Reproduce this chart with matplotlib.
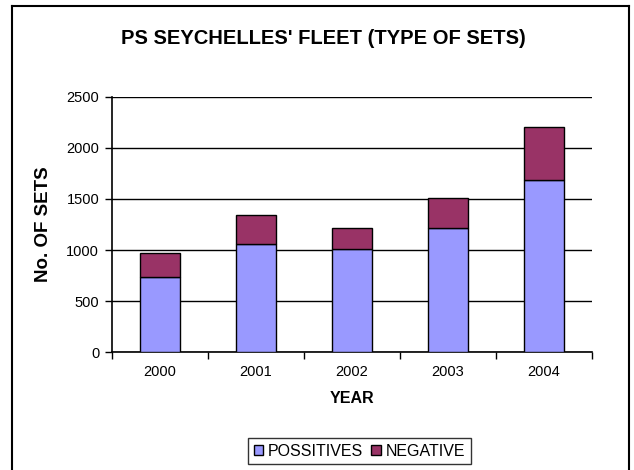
import matplotlib
matplotlib.use("Agg")
import matplotlib.pyplot as plt
from matplotlib.lines import Line2D
import numpy as np

plt.rcParams['font.family'] = ['Liberation Sans', 'DejaVu Sans']

years = ['2000', '2001', '2002', '2003', '2004']
positives = [733, 1060, 1010, 1216, 1685]
negative = [242, 283, 209, 296, 518]
y_ticks = [0, 500, 1000, 1500, 2000, 2500]

W, H = 634, 470
fig = plt.figure(figsize=(W / 100, H / 100), dpi=100)
ax = fig.add_axes([111.7 / W, 1 - 352.3 / H, (592 - 111.7) / W, (352.3 - 96.7) / H])

x = np.arange(len(years))
bw = 0.42
ax.bar(x, positives, bw, color='#9999FF', edgecolor='black', linewidth=1.0,
       label='POSSITIVES', zorder=3)
ax.bar(x, negative, bw, bottom=positives, color='#993366', edgecolor='black',
       linewidth=1.0, label='NEGATIVE', zorder=3)

ax.set_xlim(-0.5, len(years) - 0.5)
ax.set_ylim(0, 2500)
ax.set_yticks(y_ticks)
ax.set_yticklabels([str(v) for v in y_ticks], fontsize=10.5)
ax.set_xticks(x)
ax.set_xticklabels(years, fontsize=10.5)
ax.set_xticks(np.arange(-0.5, len(years) + 0.5, 1), minor=True)
ax.tick_params(axis='x', which='major', length=0, pad=9)
ax.tick_params(axis='x', which='minor', length=5, width=1, direction='out')
ax.tick_params(axis='y', length=5, width=1, direction='out', pad=4)

ax.yaxis.grid(True, color='black', linewidth=1.0, zorder=0)
for s in ['top', 'right']:
    ax.spines[s].set_visible(False)
ax.spines['left'].set_linewidth(1.2)
ax.spines['bottom'].set_linewidth(1.2)

ax.set_xlabel('YEAR', fontsize=11.5, fontweight='bold', labelpad=9)
ax.set_ylabel('No. OF SETS', fontsize=13.5, fontweight='bold', labelpad=10)

fig.text(323 / W, 1 - 38 / H, "PS SEYCHELLES' FLEET (TYPE OF SETS)",
         ha='center', va='center', fontsize=14.5, fontweight='bold')

leg = fig.legend(loc='center', bbox_to_anchor=(359.5 / W, 1 - 451 / H), ncol=2,
                 fontsize=11.5, frameon=True, fancybox=False, edgecolor='black',
                 handlelength=0.6, handleheight=0.6, handletextpad=0.3,
                 columnspacing=0.5, borderpad=0.35)
leg.get_frame().set_linewidth(1.0)

# chart area frame
fig.add_artist(Line2D([12 / W, 12 / W], [0, 1 - 6 / H], color='black', lw=1.5,
                      transform=fig.transFigure))
fig.add_artist(Line2D([12 / W, 629 / W], [1 - 6 / H, 1 - 6 / H], color='black',
                      lw=1.5, transform=fig.transFigure))
fig.add_artist(Line2D([629 / W, 629 / W], [0, 1 - 6 / H], color='black', lw=1.5,
                      transform=fig.transFigure))

fig.savefig('out.png', dpi=100)
